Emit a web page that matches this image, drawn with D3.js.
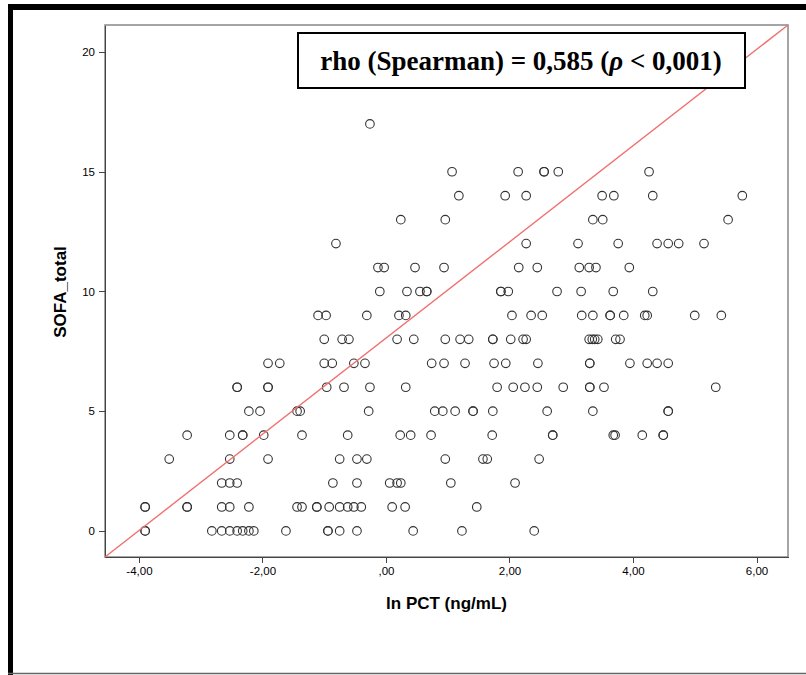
<!DOCTYPE html>
<meta charset='utf-8'>
<style>
body { margin: 0; background: #fff; }
.axis text {
    font-family: 'Liberation Sans', Arial, sans-serif;
    font-size: 11.5px;
    fill: #000;
}
.axis path, .axis line {
    stroke: #444;
    shape-rendering: crispEdges;
}
circle.pt {
    fill: none;
    stroke: #333;
    stroke-width: 1.1;
}
.title {
    font-family: 'Liberation Sans', Arial, sans-serif;
    font-weight: bold;
    font-size: 17px;
}
</style>
<svg width='806' height='675'></svg>
<script src='https://cdnjs.cloudflare.com/ajax/libs/d3/7.8.5/d3.min.js'></script>
<script>

// SOFA_total levels (y) and the ln PCT values (x) read at each level
var sofaLevels = [0, 1, 2, 3, 4, 5, 6, 7, 8, 9, 10, 11, 12, 13, 14, 15, 17];
var lnPctByLevel = [
    [-3.90, -3.90, -2.82, -2.66, -2.53, -2.41, -2.32, -2.22, -2.14, -1.62, -0.94, -0.94, -0.75, -0.47, 0.44, 1.23, 2.40],
    [-3.90, -3.90, -3.22, -3.22, -2.66, -2.53, -2.22, -1.44, -1.36, -1.12, -1.12, -0.92, -0.75, -0.62, -0.52, -0.40, 0.10, 0.31, 1.47],
    [-2.66, -2.53, -2.41, -0.86, -0.47, 0.06, 0.18, 0.24, 1.05, 2.09],
    [-3.51, -2.53, -1.91, -0.75, -0.47, -0.31, 0.96, 1.57, 1.64, 2.48],
    [-3.22, -2.53, -2.32, -2.32, -1.98, -1.36, -0.62, 0.23, 0.40, 0.73, 1.72, 2.70, 2.70, 3.68, 3.71, 4.15, 4.49, 4.49],
    [-2.22, -2.04, -1.44, -1.39, -0.28, 0.79, 0.92, 1.12, 1.41, 1.41, 1.73, 2.61, 3.35, 4.57, 4.57],
    [-2.41, -2.41, -1.91, -1.91, -0.96, -0.68, -0.26, 0.32, 1.80, 2.06, 2.25, 2.45, 2.87, 3.30, 3.30, 3.53, 5.34],
    [-1.91, -1.72, -1.00, -0.87, -0.52, -0.34, 0.74, 0.94, 1.28, 1.75, 1.94, 2.46, 3.30, 3.30, 3.95, 4.23, 4.39, 4.57],
    [-1.00, -0.71, -0.60, 0.18, 0.45, 0.96, 1.20, 1.34, 1.73, 1.73, 2.02, 2.22, 2.27, 3.29, 3.34, 3.38, 3.43, 3.72, 3.79],
    [-1.10, -0.97, -0.31, 0.21, 0.32, 2.04, 2.35, 2.53, 3.17, 3.35, 3.63, 3.63, 3.85, 4.19, 4.23, 5.00, 5.43],
    [-0.10, 0.34, 0.55, 0.66, 0.66, 1.86, 1.86, 1.98, 2.77, 3.16, 3.68, 4.32],
    [-0.13, -0.03, 0.47, 0.94, 2.15, 2.45, 3.13, 3.29, 3.40, 3.94],
    [-0.81, 2.27, 3.11, 3.76, 4.39, 4.57, 4.74, 5.15],
    [0.24, 0.96, 3.35, 3.51, 5.54],
    [1.18, 1.93, 2.27, 3.50, 3.69, 4.32, 5.77],
    [1.07, 2.14, 2.56, 2.56, 2.79, 4.26],
    [-0.26]
];

var xTicks = [-4, -2, 0, 2, 4, 6];
var yTicks = [0, 5, 10, 15, 20];
var xDomain = [-4.55, 6.51];
var yDomain = [-1.09, 21.13];
// reference line, corner to corner
var refLine = [[-4.55, -1.09], [6.51, 21.13]];

var svg = d3.select('svg');

var plot = { left: 105, right: 788, top: 25, bottom: 557 };

var x = d3.scaleLinear().domain(xDomain).range([plot.left, plot.right]),
    y = d3.scaleLinear().domain(yDomain).range([plot.bottom, plot.top]);

// outer frame of the picture
svg.append('rect').attr('x', 8).attr('y', 4).attr('width', 798).attr('height', 6).attr('fill', '#000');
svg.append('rect').attr('x', 8).attr('y', 4).attr('width', 5).attr('height', 671).attr('fill', '#000');
svg.append('line').attr('x1', 8).attr('x2', 806).attr('y1', 673.5).attr('y2', 673.5)
    .attr('stroke', '#666').attr('stroke-width', 1.5);

// plot frame
svg.append('rect')
    .attr('x', plot.left).attr('y', plot.top)
    .attr('width', plot.right - plot.left).attr('height', plot.bottom - plot.top)
    .attr('fill', '#fff').attr('stroke', '#888').attr('stroke-width', 1.5);

// SPSS style numbers: comma decimal, no leading zero
var fmtX = function(d) {
    return (d < 0 ? '-' : '') + Math.abs(d).toFixed(2).replace('.', ',').replace(/^0/, '');
};

svg.append('g')
    .attr('class', 'axis')
    .attr('transform', 'translate(0,' + plot.bottom + ')')
    .call(d3.axisBottom(x).tickValues(xTicks).tickFormat(fmtX).tickSize(6).tickSizeOuter(0).tickPadding(4));

svg.append('g')
    .attr('class', 'axis')
    .attr('transform', 'translate(' + plot.left + ',0)')
    .call(d3.axisLeft(y).tickValues(yTicks).tickFormat(d3.format('d')).tickSize(6).tickSizeOuter(0).tickPadding(4));

// points
var points = [];
sofaLevels.forEach(function(s, i) {
    lnPctByLevel[i].forEach(function(v) { points.push({ x: v, y: s }); });
});

svg.append('g').selectAll('circle')
    .data(points)
    .join('circle')
    .attr('class', 'pt')
    .attr('cx', d => x(d.x))
    .attr('cy', d => y(d.y))
    .attr('r', 4.3);

svg.append('line')
    .attr('x1', x(refLine[0][0])).attr('y1', y(refLine[0][1]))
    .attr('x2', x(refLine[1][0])).attr('y2', y(refLine[1][1]))
    .attr('stroke', '#f07070').attr('stroke-width', 1.4);

// axis titles
svg.append('text').attr('class', 'title')
    .attr('x', (plot.left + plot.right) / 2).attr('y', 609)
    .attr('text-anchor', 'middle')
    .text('ln PCT (ng/mL)');

svg.append('text').attr('class', 'title')
    .attr('transform', 'translate(66,292) rotate(-90)')
    .attr('text-anchor', 'middle')
    .text('SOFA_total');

// annotation box
svg.append('rect')
    .attr('x', 298).attr('y', 33).attr('width', 447).attr('height', 55)
    .attr('fill', '#fff').attr('stroke', '#000').attr('stroke-width', 2);

var note = svg.append('text')
    .attr('x', 521).attr('y', 70)
    .attr('text-anchor', 'middle')
    .style('font-family', "'Liberation Serif', 'Times New Roman', serif")
    .style('font-weight', 'bold')
    .style('font-size', '27px');
note.append('tspan').text('rho (Spearman) = 0,585 (');
note.append('tspan').style('font-style', 'italic').text('ρ');
note.append('tspan').text(' < 0,001)');

</script>
